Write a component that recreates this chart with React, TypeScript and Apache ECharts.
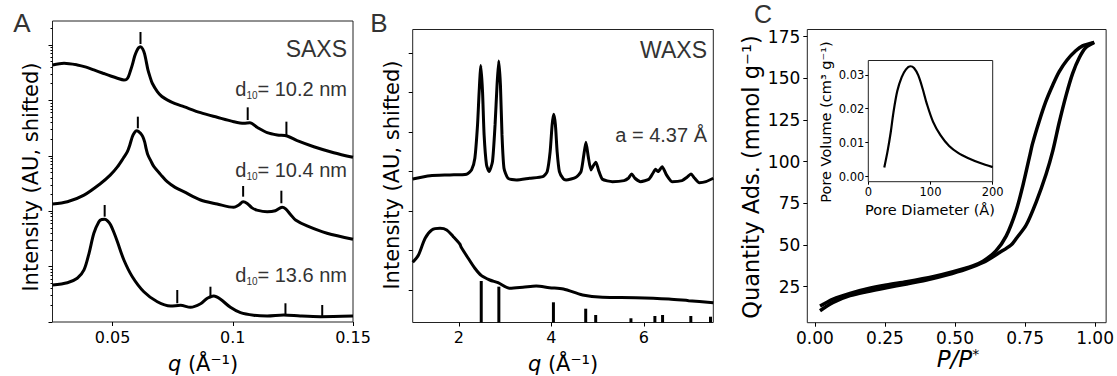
import React, { useEffect, useRef } from 'react';
import * as echarts from 'echarts';

// ---------- Panel A (SAXS): q (1/Å) vs log10 intensity (decades, shifted) ----------
const saxsTop = [
  [0.025, 4.64], [0.0298, 4.67], [0.0353, 4.64], [0.039, 4.6], [0.0422, 4.55], [0.046, 4.49],
  [0.0492, 4.44], [0.052, 4.4], [0.0547, 4.37], [0.0558, 4.38], [0.0566, 4.43], [0.0574, 4.53],
  [0.0582, 4.64], [0.0592, 4.8], [0.06, 4.89], [0.0608, 4.95], [0.0616, 4.97], [0.0625, 4.93],
  [0.0633, 4.84], [0.064, 4.7], [0.0647, 4.55], [0.0656, 4.42], [0.0665, 4.31], [0.0686, 4.16],
  [0.0705, 4.07], [0.0727, 4.01], [0.076, 3.94], [0.0796, 3.886], [0.0866, 3.778], [0.0935, 3.695],
  [0.1004, 3.616], [0.1046, 3.587], [0.1071, 3.597], [0.1101, 3.514], [0.1143, 3.417], [0.1185, 3.375],
  [0.1226, 3.357], [0.1268, 3.273], [0.1337, 3.164], [0.142, 3.056], [0.15, 2.973],
];
const saxsMid = [
  [0.025, 2.13], [0.0312, 2.17], [0.0381, 2.29], [0.045, 2.5], [0.049, 2.65], [0.052, 2.8],
  [0.0545, 2.96], [0.0561, 3.07], [0.0572, 3.2], [0.0582, 3.345], [0.0591, 3.42], [0.06, 3.453],
  [0.0608, 3.44], [0.0616, 3.406], [0.0625, 3.35], [0.0633, 3.255], [0.064, 3.12], [0.0647, 3.014],
  [0.066, 2.9], [0.0672, 2.803], [0.07, 2.66], [0.0727, 2.532], [0.076, 2.43], [0.0796, 2.352],
  [0.0866, 2.202], [0.0935, 2.13], [0.1004, 2.07], [0.1025, 2.112], [0.1043, 2.17], [0.106, 2.14],
  [0.108, 2.06], [0.11, 2.02], [0.1143, 1.991], [0.1177, 2.009], [0.1205, 2.07], [0.122, 2.04],
  [0.124, 1.94], [0.1261, 1.841], [0.1309, 1.733], [0.1392, 1.601], [0.15, 1.493],
];
const saxsBot = [
  [0.025, 0.668], [0.0312, 0.709], [0.0353, 0.789], [0.0381, 0.939], [0.0402, 1.24], [0.0422, 1.601],
  [0.0443, 1.81], [0.0455, 1.85], [0.0467, 1.854], [0.048, 1.82], [0.0492, 1.751], [0.0506, 1.61],
  [0.052, 1.449], [0.0547, 1.119], [0.0582, 0.818], [0.063, 0.547], [0.0686, 0.366], [0.0741, 0.289],
  [0.0783, 0.301], [0.0824, 0.265], [0.0866, 0.33], [0.0894, 0.428], [0.0921, 0.469], [0.0949, 0.41],
  [0.099, 0.265], [0.1032, 0.168], [0.1087, 0.121], [0.1143, 0.108], [0.1212, 0.126], [0.1281, 0.108],
  [0.1365, 0.096], [0.15, 0.108],
];
// peak markers: [q, yFrom, yTo]
const saxsMarks = [
  [0.0616, 5.018, 5.235], [0.1062, 3.646, 3.875], [0.1223, 3.375, 3.616],
  [0.0605, 3.496, 3.706], [0.1043, 2.262, 2.455], [0.1202, 2.143, 2.37],
  [0.0467, 1.901, 2.112], [0.0769, 0.338, 0.578], [0.0907, 0.428, 0.637],
  [0.1219, 0.108, 0.338], [0.1372, 0.085, 0.307],
];
const saxsLabels = ['10.2', '10.4', '13.6'];
const saxsXTicks = [0.05, 0.1, 0.15];

// ---------- Panel B (WAXS) ----------
const waxsTop = [
  [1.0, 2.814], [1.376, 2.897], [1.806, 2.915], [2.166, 2.933], [2.273, 3.042], [2.344, 3.338],
  [2.402, 4.183], [2.437, 5.027], [2.473, 5.686], [2.51, 5.027], [2.544, 3.929], [2.596, 3.169],
  [2.652, 2.999], [2.725, 3.252], [2.781, 4.183], [2.824, 5.197], [2.86, 5.805], [2.897, 5.197],
  [2.931, 3.929], [2.974, 3.085], [3.06, 2.831], [3.241, 2.788], [3.527, 2.831], [3.813, 2.872],
  [3.908, 2.999], [3.972, 3.506], [4.015, 4.183], [4.049, 4.454], [4.086, 4.183], [4.123, 3.506],
  [4.172, 2.999], [4.258, 2.814], [4.316, 2.788], [4.531, 2.857], [4.639, 2.999], [4.695, 3.379],
  [4.746, 3.744], [4.796, 3.379], [4.854, 3.042], [4.903, 3.143], [4.961, 3.237], [5.017, 3.042],
  [5.103, 2.806], [5.318, 2.745], [5.57, 2.771], [5.662, 2.831], [5.735, 2.94], [5.806, 2.831],
  [5.929, 2.745], [6.108, 2.806], [6.194, 2.958], [6.252, 3.06], [6.308, 2.999], [6.394, 3.125],
  [6.488, 2.915], [6.609, 2.745], [6.824, 2.771], [6.931, 2.857], [7.017, 2.94], [7.097, 2.831],
  [7.198, 2.72], [7.34, 2.745], [7.5, 2.831],
];
const waxsBot = [
  [1.0, 0.702], [1.125, 0.887], [1.269, 1.311], [1.413, 1.521], [1.591, 1.564], [1.735, 1.521],
  [1.877, 1.351], [2.022, 1.158], [2.043, 1.098], [2.2, 0.804], [2.344, 0.55], [2.488, 0.362],
  [2.667, 0.253], [2.845, 0.185], [3.097, 0.043], [3.383, 0.068], [3.671, 0.101], [3.957, 0.058],
  [4.258, 0.025], [4.673, -0.127], [5.103, -0.185], [5.822, -0.195], [6.538, -0.228], [6.968, -0.271],
  [7.5, -0.322],
];
// reference reflections: [q, top]
const waxsSticks = [
  [2.482, 0.228], [2.863, 0.084], [4.043, -0.312], [4.741, -0.474], [4.957, -0.634],
  [5.719, -0.717], [6.237, -0.659], [6.403, -0.634], [7.014, -0.659], [7.439, -0.677],
];
const waxsXTicks = [2, 4, 6];
const waxsYTicks = [0, 1, 2, 3, 4, 5, 6];
const waxsYMin = -0.824;

// ---------- Panel C (isotherm) ----------
const isoUpper = [
  [0.018, 13.4], [0.065, 17.6], [0.125, 21.0], [0.184, 23.6], [0.255, 26.0], [0.327, 28.0],
  [0.421, 31.0], [0.493, 34.0], [0.563, 37.5], [0.6, 40.3], [0.646, 46.5], [0.683, 55.5],
  [0.718, 70.5], [0.742, 85.5], [0.766, 103], [0.777, 111], [0.8, 124], [0.824, 136],
  [0.849, 146], [0.872, 154], [0.9, 161], [0.931, 166.5], [0.955, 169.5], [0.997, 171.6],
];
const isoLower = [
  [0.018, 10.6], [0.065, 15.6], [0.125, 19.6], [0.184, 22.0], [0.255, 24.4], [0.327, 26.6],
  [0.398, 29.0], [0.469, 32.0], [0.54, 35.6], [0.6, 39.5], [0.659, 45.5], [0.7, 50],
  [0.718, 53.8], [0.754, 62], [0.789, 75.5], [0.825, 92.5], [0.849, 106.5], [0.872, 123.5],
  [0.896, 139.5], [0.92, 153], [0.944, 162.5], [0.967, 168.5], [0.997, 171.6],
];
const isoXTicks = [0, 0.25, 0.5, 0.75, 1.0];
const isoYTicks = [25, 50, 75, 100, 125, 150, 175];

// inset: pore size distribution
const poreDist = [
  [25.7, 0.0027], [31, 0.0075], [36, 0.013], [40.5, 0.019], [46.6, 0.0252], [53.7, 0.0293],
  [60.6, 0.0316], [67.5, 0.0325], [73.5, 0.032], [80.4, 0.0298], [87.5, 0.0258], [94, 0.0215],
  [104, 0.0162], [116, 0.0122], [130, 0.009], [145, 0.0069], [160, 0.0055], [180, 0.004], [200, 0.0028],
];
const poreXTicks = [0, 100, 200];
const poreYTicks = [0, 0.01, 0.02, 0.03];

const DV = '"DejaVu Sans", sans-serif';
const LS = '"Liberation Sans", Arial, sans-serif';
const GRAY = '#333333';

function xAx(grid: number, min: number, max: number, ticks: number[], fmt: (v: number) => string, fs: number, margin: number, tickLen = 4) {
  return {
    type: 'value', gridIndex: grid, min, max, position: 'bottom',
    axisLine: { show: false, onZero: false }, splitLine: { show: false },
    axisTick: { show: true, customValues: ticks, length: tickLen, lineStyle: { color: '#000', width: 1 } },
    axisLabel: { show: true, customValues: ticks, formatter: fmt, fontSize: fs, fontFamily: DV, color: '#000', margin },
  };
}
function yAx(grid: number, min: number, max: number, ticks: number[], labels: boolean, fmt: (v: number) => string, fs: number, margin: number, tickLen = 4) {
  return {
    type: 'value', gridIndex: grid, min, max, position: 'left', offset: 0,
    axisLine: { show: false, onZero: false }, splitLine: { show: false },
    axisTick: { show: true, customValues: ticks, length: tickLen, lineStyle: { color: '#000', width: 1 } },
    axisLabel: labels
      ? { show: true, customValues: ticks, formatter: fmt, fontSize: fs, fontFamily: DV, color: '#000', margin }
      : { show: false },
  };
}

function lineSeries(data: number[][], xi: number, yi: number, w: number, smooth = 0.3) {
  return {
    type: 'line', data, xAxisIndex: xi, yAxisIndex: yi, showSymbol: false, smooth,
    lineStyle: { color: '#000', width: w }, itemStyle: { color: '#000' }, silent: true, z: 3,
  };
}

export default function App() {
  const ref = useRef<HTMLDivElement>(null);
  useEffect(() => {
    const chart = echarts.init(ref.current!, null, { renderer: 'svg' });
    const aMax = 5.433;
    const aMajor = [0, 1, 2, 3, 4, 5];
    const aMinor: number[] = [];
    for (let k = 0; k <= 5; k++) for (let m = 2; m <= 9; m++) {
      const v = k + Math.log10(m);
      if (v < aMax) aMinor.push(v);
    }
    const gridStyle = { show: true, borderColor: '#222', borderWidth: 1, backgroundColor: 'transparent', containLabel: false };

    const option: any = {
      animation: false,
      backgroundColor: '#fff',
      grid: [
        { ...gridStyle, left: 52.5, top: 21, width: 300.5, height: 301 },
        { ...gridStyle, left: 412.7, top: 29.5, width: 300.6, height: 293 },
        { ...gridStyle, left: 807.3, top: 29.5, width: 299.7, height: 293.2 },
        { ...gridStyle, left: 868.3, top: 60.5, width: 124.4, height: 121.2, backgroundColor: '#fff', z: 5 },
      ],
      xAxis: [
        xAx(0, 0.025, 0.15, saxsXTicks, (v) => String(v), 16, 7),
        xAx(1, 1, 7.5, waxsXTicks, (v) => String(v), 16, 7),
        xAx(2, -0.0274, 1.0395, isoXTicks, (v) => v.toFixed(2), 17, 7),
        { ...xAx(3, 0, 200, poreXTicks, (v) => String(v), 11.5, 4, 3), z: 6 },
      ],
      yAxis: [
        yAx(0, 0, aMax, aMajor, false, String, 16, 7, 4),
        yAx(0, 0, aMax, aMinor, false, String, 16, 7, 2),
        yAx(1, waxsYMin, 6.6, waxsYTicks, false, String, 16, 7, 4),
        yAx(2, 3.4, 179.3, isoYTicks, true, (v) => String(v), 17, 7, 4),
        { ...yAx(3, -0.0015, 0.0342, poreYTicks, true, (v) => v.toFixed(2), 11.5, 4, 3), z: 6 },
      ],
      series: [
        lineSeries(saxsTop, 0, 0, 3),
        lineSeries(saxsMid, 0, 0, 3),
        lineSeries(saxsBot, 0, 0, 3),
        {
          type: 'custom', xAxisIndex: 0, yAxisIndex: 0, data: saxsMarks, silent: true,
          encode: { x: 0, y: [1, 2] },
          renderItem: (_p: any, api: any) => {
            const a = api.coord([api.value(0), api.value(1)]);
            const b = api.coord([api.value(0), api.value(2)]);
            return { type: 'line', shape: { x1: a[0], y1: a[1], x2: b[0], y2: b[1] }, style: { stroke: '#000', lineWidth: 2 } };
          },
        },
        lineSeries(waxsTop, 1, 2, 3, 0.2),
        lineSeries(waxsBot, 1, 2, 3),
        {
          type: 'custom', xAxisIndex: 1, yAxisIndex: 2, data: waxsSticks, silent: true,
          encode: { x: 0, y: 1 },
          renderItem: (_p: any, api: any) => {
            const a = api.coord([api.value(0), waxsYMin]);
            const b = api.coord([api.value(0), api.value(1)]);
            return { type: 'line', shape: { x1: a[0], y1: a[1], x2: b[0], y2: b[1] }, style: { stroke: '#000', lineWidth: 3 } };
          },
        },
        lineSeries(isoUpper, 2, 3, 3.5),
        lineSeries(isoLower, 2, 3, 3.5),
        { ...lineSeries(poreDist, 3, 4, 2.2), z: 7 },
      ],
      graphic: [
        // panel letters
        { type: 'text', x: 22, y: 23, style: { text: 'A', fontSize: 26, fontFamily: LS, fill: GRAY, align: 'center', verticalAlign: 'middle' } },
        { type: 'text', x: 379, y: 23, style: { text: 'B', fontSize: 26, fontFamily: LS, fill: GRAY, align: 'center', verticalAlign: 'middle' } },
        { type: 'text', x: 763, y: 14, style: { text: 'C', fontSize: 25, fontFamily: LS, fill: GRAY, align: 'center', verticalAlign: 'middle' } },
        // panel A annotations
        { type: 'text', x: 347, y: 49, style: { text: 'SAXS', fontSize: 23, fontFamily: LS, fill: GRAY, align: 'right', verticalAlign: 'middle' } },
        ...saxsLabels.map((d, i) => ({
          type: 'text', x: 347, y: [89, 170, 275][i],
          style: {
            text: `{m|d}{s|10}{m|= ${d} nm}`, align: 'right', verticalAlign: 'middle',
            rich: {
              m: { fontSize: 20, fontFamily: LS, fill: GRAY, color: GRAY, lineHeight: 22 },
              s: { fontSize: 10, fontFamily: LS, fill: GRAY, color: GRAY, lineHeight: 10, verticalAlign: 'bottom' },
            },
          },
        })),
        // panel B annotations
        { type: 'text', x: 707, y: 50, style: { text: 'WAXS', fontSize: 23, fontFamily: LS, fill: GRAY, align: 'right', verticalAlign: 'middle' } },
        { type: 'text', x: 707, y: 135, style: { text: 'a = 4.37 Å', fontSize: 20, fontFamily: LS, fill: GRAY, align: 'right', verticalAlign: 'middle' } },
        // axis titles
        { type: 'text', x: 31, y: 177, rotation: Math.PI / 2, style: { text: 'Intensity (AU, shifted)', fontSize: 21, fontFamily: DV, fill: '#000', align: 'center', verticalAlign: 'middle' } },
        { type: 'text', x: 392, y: 175, rotation: Math.PI / 2, style: { text: 'Intensity (AU, shifted)', fontSize: 21, fontFamily: DV, fill: '#000', align: 'center', verticalAlign: 'middle' } },
        { type: 'text', x: 751, y: 177, rotation: Math.PI / 2, style: { text: 'Quantity Ads. (mmol g⁻¹)', fontSize: 22.5, fontFamily: DV, fill: '#000', align: 'center', verticalAlign: 'middle' } },
        ...[203, 563].map((cx) => ({
          type: 'text', x: cx, y: 364,
          style: {
            text: '{i|q} (Å⁻¹)', fontSize: 21, fontFamily: DV, fill: '#000', align: 'center', verticalAlign: 'middle',
            rich: { i: { fontSize: 21, fontFamily: DV, fontStyle: 'italic', fill: '#000', color: '#000' } },
          },
        })),
        {
          type: 'text', x: 958, y: 359,
          style: {
            text: '{i|P/P}{s|*}', align: 'center', verticalAlign: 'middle',
            rich: {
              i: { fontSize: 23, fontFamily: DV, fontStyle: 'italic', fill: '#000', color: '#000', lineHeight: 24 },
              s: { fontSize: 14, fontFamily: DV, fill: '#000', color: '#000', lineHeight: 14, verticalAlign: 'top' },
            },
          },
        },
        // inset titles
        { type: 'text', x: 930, y: 210, z: 10, style: { text: 'Pore Diameter (Å)', fontSize: 14.5, fontFamily: DV, fill: '#000', align: 'center', verticalAlign: 'middle' } },
        { type: 'text', x: 825.5, y: 122, z: 10, rotation: Math.PI / 2, style: { text: 'Pore Volume (cm³ g⁻¹)', fontSize: 14.5, fontFamily: DV, fill: '#000', align: 'center', verticalAlign: 'middle' } },
      ],
    };
    chart.setOption(option);
    return () => chart.dispose();
  }, []);
  return <div ref={ref} style={{ position: 'absolute', left: 0, top: 0, width: 1117, height: 376 }} />;
}
